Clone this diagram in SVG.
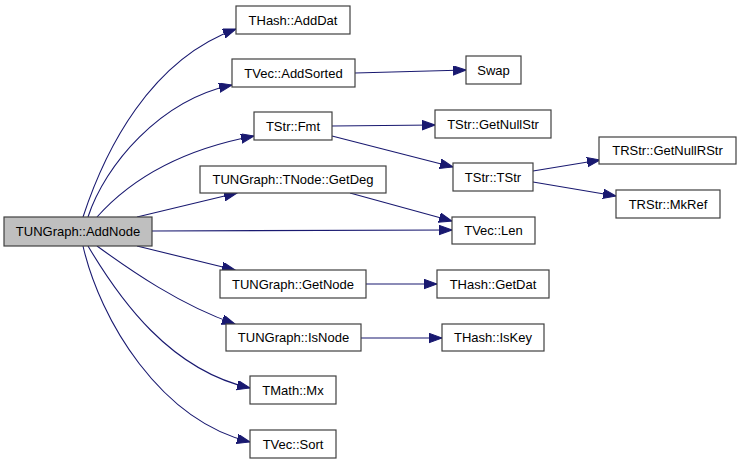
<svg xmlns="http://www.w3.org/2000/svg" width="741" height="464" viewBox="0 0 741 464">
<style>
.n rect{fill:#ffffff;stroke:#404040;stroke-width:1.2}
.n text{font-family:"Liberation Sans",Arial,sans-serif;font-size:13px;fill:#000;text-anchor:middle}
#n_addnode rect{fill:#bfbfbf}
#edges path{fill:none;stroke:#191970;stroke-width:1.1;marker-end:url(#arr)}
</style>
<defs>
<marker id="arr" markerWidth="14" markerHeight="11" refX="13" refY="4.75" orient="auto" markerUnits="userSpaceOnUse">
<path d="M0,0 L13,4.75 L0,9.5 z" fill="#191970" stroke="#191970" stroke-width="1"/>
</marker>
</defs>
<rect width="741" height="464" fill="#ffffff"/>
<g id="edges">
<path d="M83,217 C105,150 150,60 236,29"/>
<path d="M88,217 C105,165 160,100 232,85"/>
<path d="M97,217 C130,180 180,150 254,136"/>
<path d="M137,217 L237,193"/>
<path d="M152,231 L452,230"/>
<path d="M137,246 L235,270"/>
<path d="M97,246 C130,270 180,305 235,324"/>
<path d="M88,246 C120,300 170,370 250,388"/>
<path d="M83,246 C100,320 160,420 250,442"/>
<path d="M355,73 L466,70"/>
<path d="M332,126 L435,125"/>
<path d="M332,136 L453,167"/>
<path d="M533,171 L600,160"/>
<path d="M533,182 L616,196"/>
<path d="M350,193 L452,221"/>
<path d="M366,284 L437,284"/>
<path d="M361,338 L442,338"/>
</g>
<g id="n_addnode" class="n"><rect x="4" y="217" width="148" height="29"/><text x="78" y="236">TUNGraph::AddNode</text></g>
<g id="n_adddat" class="n"><rect x="236" y="6" width="114" height="28"/><text x="293" y="24.5">THash::AddDat</text></g>
<g id="n_addsorted" class="n"><rect x="232" y="59" width="123" height="28"/><text x="293.5" y="77.5">TVec::AddSorted</text></g>
<g id="n_fmt" class="n"><rect x="254" y="112" width="78" height="28"/><text x="293" y="130.5">TStr::Fmt</text></g>
<g id="n_getdeg" class="n"><rect x="200" y="166" width="186" height="27"/><text x="293" y="184">TUNGraph::TNode::GetDeg</text></g>
<g id="n_swap" class="n"><rect x="466" y="56" width="55" height="28"/><text x="493.5" y="74.5">Swap</text></g>
<g id="n_getnullstr" class="n"><rect x="435" y="110" width="116" height="28"/><text x="493" y="128.5">TStr::GetNullStr</text></g>
<g id="n_getnullrstr" class="n"><rect x="599" y="137" width="137" height="27"/><text x="667.5" y="155">TRStr::GetNullRStr</text></g>
<g id="n_tstr" class="n"><rect x="453" y="163" width="80" height="28"/><text x="493" y="181.5">TStr::TStr</text></g>
<g id="n_mkref" class="n"><rect x="616" y="190" width="104" height="28"/><text x="668" y="208.5">TRStr::MkRef</text></g>
<g id="n_len" class="n"><rect x="452" y="217" width="83" height="27"/><text x="493.5" y="235">TVec::Len</text></g>
<g id="n_getnode" class="n"><rect x="220" y="270" width="146" height="28"/><text x="293" y="288.5">TUNGraph::GetNode</text></g>
<g id="n_getdat" class="n"><rect x="437" y="270" width="112" height="28"/><text x="493" y="288.5">THash::GetDat</text></g>
<g id="n_isnode" class="n"><rect x="226" y="324" width="135" height="27"/><text x="293.5" y="342">TUNGraph::IsNode</text></g>
<g id="n_iskey" class="n"><rect x="442" y="324" width="102" height="27"/><text x="493" y="342">THash::IsKey</text></g>
<g id="n_mx" class="n"><rect x="250" y="376" width="86" height="28"/><text x="293" y="394.5">TMath::Mx</text></g>
<g id="n_sort" class="n"><rect x="250" y="430" width="86" height="28"/><text x="293" y="448.5">TVec::Sort</text></g>
</svg>
